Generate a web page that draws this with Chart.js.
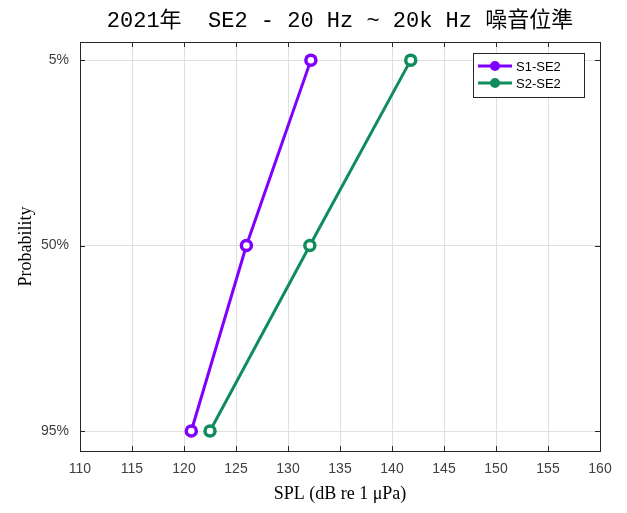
<!DOCTYPE html>
<html><head><meta charset="utf-8">
<script src="https://cdn.jsdelivr.net/npm/chart.js@4/dist/chart.umd.min.js"></script>
<style>html,body{margin:0;padding:0;background:#fff}#wrap{width:627px;height:513px}</style>
</head><body><div id="wrap"><canvas id="c" width="627" height="513"></canvas></div>
<script>
const titleText = '2021年  SE2 - 20 Hz ~ 20k Hz 噪音位準';
const probLevels = [5, 50, 95];
const probLabels = ['5%', '50%', '95%'];
const xTicks = [110,115,120,125,130,135,140,145,150,155,160];
const s1Name = 'S1-SE2';
const s1Values = [132.2, 126.0, 120.7];
const s2Name = 'S2-SE2';
const s2Values = [141.8, 132.1, 122.5];
const colS1 = '#8000ff';
const colS2 = '#108c5c';

function pts(vals){ return vals.map((v,i)=>({x:v,y:probLevels[i]})); }

const frame = {
  id:'frame',
  afterDraw(chart){
    const ctx = chart.ctx, a = chart.chartArea;
    const xs = chart.scales.x, ys = chart.scales.y;
    ctx.save();
    ctx.strokeStyle = '#262626'; ctx.lineWidth = 1;
    ctx.strokeRect(Math.round(a.left)+0.5, Math.round(a.top)+0.5, Math.round(a.right-a.left), Math.round(a.bottom-a.top));
    ctx.beginPath();
    xTicks.forEach(v=>{const px=Math.round(xs.getPixelForValue(v))+0.5;
      ctx.moveTo(px,a.bottom); ctx.lineTo(px,a.bottom-5);
      ctx.moveTo(px,a.top); ctx.lineTo(px,a.top+5);});
    probLevels.forEach(v=>{const py=Math.round(ys.getPixelForValue(v))+0.5;
      ctx.moveTo(a.left,py); ctx.lineTo(a.left+5,py);
      ctx.moveTo(a.right,py); ctx.lineTo(a.right-5,py);});
    ctx.stroke();
    // title
    ctx.fillStyle = '#000';
    ctx.font = '22px "Liberation Mono", "Noto Sans CJK TC", monospace';
    ctx.textAlign = 'center'; ctx.textBaseline = 'middle';
    ctx.fillText(titleText, (a.left+a.right)/2, 21);
    // legend
    const lx=473, ly=53, lw=111, lh=44;
    ctx.fillStyle='#fff'; ctx.fillRect(lx,ly,lw,lh);
    ctx.strokeStyle='#262626'; ctx.lineWidth=1; ctx.strokeRect(lx+0.5,ly+0.5,lw,lh);
    chart.data.datasets.forEach((ds,i)=>{
      const y = ly + 13 + i*17;
      ctx.strokeStyle = ds.borderColor; ctx.lineWidth = 3;
      ctx.beginPath(); ctx.moveTo(lx+5,y); ctx.lineTo(lx+39,y); ctx.stroke();
      ctx.fillStyle = ds.borderColor;
      ctx.beginPath(); ctx.arc(lx+22,y,5,0,Math.PI*2); ctx.fill();
      ctx.fillStyle = '#000'; ctx.font = '13px "Liberation Sans", Arial, sans-serif';
      ctx.textAlign='left'; ctx.textBaseline='middle';
      ctx.fillText(ds.label, lx+43, y+1);
    });
    ctx.restore();
  }
};

new Chart(document.getElementById('c'), {
  type:'line',
  data:{datasets:[
    {label:s1Name, data:pts(s1Values), borderColor:colS1, backgroundColor:'#fff', borderWidth:3, pointRadius:5, pointBorderWidth:3.5, pointBackgroundColor:'#fff', pointBorderColor:colS1},
    {label:s2Name, data:pts(s2Values), borderColor:colS2, backgroundColor:'#fff', borderWidth:3, pointRadius:5, pointBorderWidth:3.5, pointBackgroundColor:'#fff', pointBorderColor:colS2}
  ]},
  options:{
    responsive:false, animation:false,
    layout:{padding:{top:42,right:27,left:15,bottom:8}},
    plugins:{legend:{display:false}, title:{display:false}, tooltip:{enabled:false}},
    scales:{
      x:{type:'linear', min:110, max:160,
        afterBuildTicks(s){ s.ticks = xTicks.map(v=>({value:v})); },
        afterFit(s){ s.height = 54; },
        grid:{color:'#e0e0e0', drawTicks:false},
        border:{display:false},
        ticks:{padding:10, color:'#404040', font:{family:'"Liberation Sans", Arial, sans-serif', size:14}},
        title:{display:true, text:'SPL (dB re 1 μPa)', color:'#000', font:{family:'"Liberation Serif", serif', size:18}, padding:{top:2,bottom:0}}
      },
      y:{type:'linear', reverse:true, min:0.6, max:99.85,
        afterBuildTicks(s){ s.ticks = probLevels.map(v=>({value:v})); },
        afterFit(s){ s.width = 65; },
        grid:{color:'#e0e0e0', drawTicks:false},
        border:{display:false},
        ticks:{padding:11, color:'#404040', font:{family:'"Liberation Sans", Arial, sans-serif', size:14},
          callback(v){ const i = probLevels.indexOf(v); return i>=0 ? probLabels[i] : ''; }},
        title:{display:true, text:'Probability', color:'#000', font:{family:'"Liberation Serif", serif', size:18}, padding:{top:0,bottom:0}}
      }
    }
  },
  plugins:[frame]
});
</script></body></html>
